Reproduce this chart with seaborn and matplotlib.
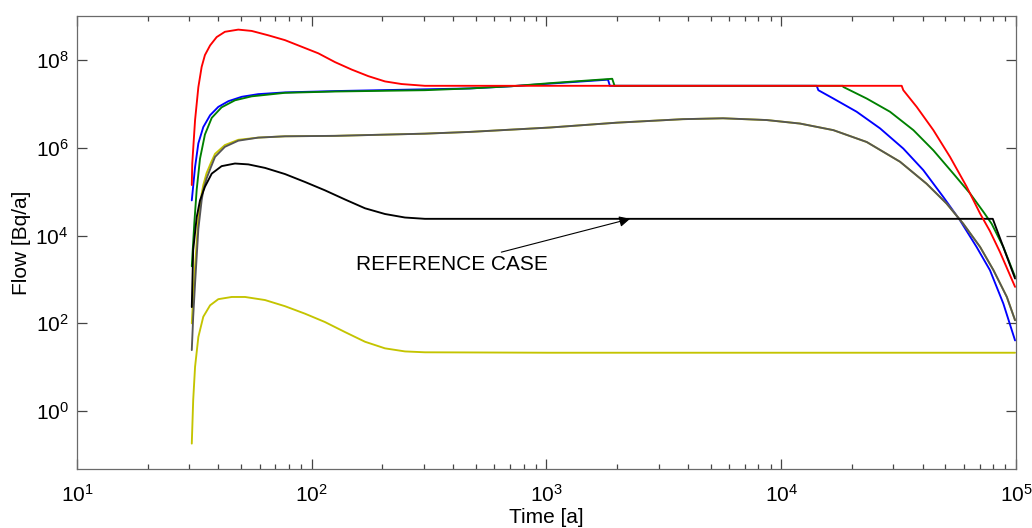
import matplotlib
matplotlib.use("Agg")
import matplotlib.pyplot as plt
import matplotlib.ticker as mticker
import seaborn as sns
import pandas as pd
import numpy as np

# ---- data: log10(time [a]) and log10(flow [Bq/a]) ----
yellow_low_lt = [1.489, 1.495, 1.503, 1.517, 1.538, 1.567, 1.602, 1.659, 1.716, 1.801, 1.886,
                 1.971, 2.056, 2.142, 2.227, 2.312, 2.397, 2.482, 3.015, 4.996]
yellow_low_lf = [-0.74, 0.25, 1.01, 1.69, 2.15, 2.41, 2.55, 2.60, 2.60, 2.53, 2.39,
                 2.22, 2.03, 1.80, 1.58, 1.43, 1.36, 1.34, 1.33, 1.33]

blue_lt = [1.489, 1.503, 1.517, 1.538, 1.567, 1.602, 1.645, 1.702, 1.772, 1.886, 2.099, 2.482,
           2.674, 2.85, 3.015, 3.262, 3.27, 4.151, 4.158, 4.222, 4.321, 4.421, 4.520, 4.605,
           4.690, 4.761, 4.832, 4.889, 4.946, 4.996]
blue_lf = [4.80, 5.56, 6.10, 6.47, 6.74, 6.93, 7.06, 7.16, 7.22, 7.26, 7.29, 7.33,
           7.35, 7.40, 7.46, 7.55, 7.41, 7.41, 7.31, 7.12, 6.82, 6.44, 5.98, 5.49,
           4.88, 4.35, 3.74, 3.21, 2.45, 1.61]

green_lt = [1.489, 1.500, 1.510, 1.524, 1.545, 1.574, 1.616, 1.673, 1.744, 1.886, 2.099, 2.482,
            2.674, 2.85, 3.015, 3.28, 3.29, 4.263, 4.264, 4.364, 4.463, 4.563, 4.648, 4.733,
            4.804, 4.861, 4.896, 4.946, 4.996]
green_lf = [3.30, 4.30, 5.05, 5.75, 6.30, 6.68, 6.92, 7.08, 7.17, 7.25, 7.28, 7.31,
            7.35, 7.40, 7.47, 7.57, 7.41, 7.41, 7.385, 7.12, 6.82, 6.40, 5.94, 5.41,
            4.96, 4.54, 4.27, 3.74, 3.06]

mid_lt = [1.489, 1.495, 1.503, 1.517, 1.531, 1.538, 1.552, 1.570, 1.588, 1.630, 1.687, 1.772,
          1.886, 2.099, 2.482, 2.674, 3.015, 3.299, 3.581, 3.752, 3.938, 4.080, 4.222, 4.364,
          4.506, 4.619, 4.704, 4.775, 4.847, 4.904, 4.961, 4.996]
yellow_mid_lf = [2.00, 2.60, 3.30, 4.40, 4.95, 5.15, 5.42, 5.65, 5.86, 6.06, 6.18, 6.23,
                 6.26, 6.27, 6.32, 6.36, 6.46, 6.57, 6.65, 6.67, 6.63, 6.55, 6.40, 6.13,
                 5.68, 5.18, 4.73, 4.27, 3.74, 3.21, 2.60, 2.07]
gray_lf = [1.39, 2.15, 2.91, 4.15, 4.80, 5.03, 5.30, 5.55, 5.79, 6.02, 6.16, 6.23,
           6.26, 6.27, 6.32, 6.36, 6.46, 6.57, 6.65, 6.67, 6.63, 6.55, 6.40, 6.13,
           5.68, 5.18, 4.73, 4.27, 3.74, 3.21, 2.60, 2.07]

black_lt = [1.489, 1.495, 1.510, 1.524, 1.545, 1.574, 1.616, 1.673, 1.730, 1.801, 1.886,
            1.971, 2.056, 2.142, 2.227, 2.312, 2.397, 2.482, 4.901, 4.996]
black_lf = [2.37, 3.67, 4.42, 4.80, 5.11, 5.41, 5.58, 5.64, 5.62, 5.54, 5.40,
            5.22, 5.03, 4.82, 4.62, 4.49, 4.41, 4.38, 4.38, 3.02]

red_lt = [1.489, 1.491, 1.503, 1.517, 1.531, 1.545, 1.567, 1.595, 1.630, 1.687, 1.744, 1.815,
          1.886, 1.957, 2.028, 2.099, 2.170, 2.241, 2.312, 2.383, 2.482, 4.513, 4.520, 4.577,
          4.648, 4.719, 4.790, 4.847, 4.889, 4.932, 4.996]
red_lf = [5.15, 5.64, 6.63, 7.38, 7.84, 8.11, 8.33, 8.52, 8.64, 8.69, 8.66, 8.56,
          8.45, 8.30, 8.15, 7.95, 7.78, 7.63, 7.51, 7.45, 7.41, 7.41, 7.31, 6.93,
          6.40, 5.79, 5.11, 4.50, 4.10, 3.62, 2.83]

annot_text = "REFERENCE CASE"
annot_tip_lt, annot_tip_lf = 3.356, 4.38
annot_txt_lt, annot_txt_lf = 3.006, 3.33

series = {
    "yellow_low": (yellow_low_lt, yellow_low_lf),
    "blue": (blue_lt, blue_lf),
    "green": (green_lt, green_lf),
    "yellow_mid": (mid_lt, yellow_mid_lf),
    "gray": (mid_lt, gray_lf),
    "black": (black_lt, black_lf),
    "red": (red_lt, red_lf),
}
colors = {
    "yellow_low": "#c4c400",
    "blue": "#0000ff",
    "green": "#008000",
    "yellow_mid": "#c4c400",
    "gray": "#555555",
    "black": "#000000",
    "red": "#ff0000",
}

frames = []
for name, (lt, lf) in series.items():
    frames.append(pd.DataFrame({"series": name,
                                "t": np.power(10.0, lt),
                                "flow": np.power(10.0, lf)}))
df = pd.concat(frames, ignore_index=True)

sns.set_style("ticks")
plt.rcParams["font.family"] = ["Liberation Sans", "DejaVu Sans"]
plt.rcParams["mathtext.fontset"] = "custom"
plt.rcParams["mathtext.rm"] = "Liberation Sans"
plt.rcParams["mathtext.it"] = "Liberation Sans:italic"
plt.rcParams["mathtext.default"] = "regular"
plt.rcParams["text.color"] = "black"
plt.rcParams["axes.labelcolor"] = "black"

fig = plt.figure(figsize=(10.32, 5.28), dpi=100)
ax = fig.add_axes([0.0746, 0.1117, 0.9099, 0.858])

sns.lineplot(data=df, x="t", y="flow", hue="series", hue_order=list(series.keys()),
             palette=colors, sort=False, estimator=None, legend=False, lw=1.35, ax=ax)

ax.set_xscale("log")
ax.set_yscale("log")
ax.set_xlim(10, 1e5)
ax.set_ylim(0.048, 1e9)

ax.xaxis.set_major_locator(mticker.LogLocator(base=10, numticks=10))
ax.xaxis.set_minor_locator(mticker.LogLocator(base=10, subs=np.arange(2, 10), numticks=20))
ax.yaxis.set_major_locator(mticker.FixedLocator([1e0, 1e2, 1e4, 1e6, 1e8]))
ax.yaxis.set_minor_locator(mticker.NullLocator())
fmt = mticker.FuncFormatter(lambda v, p: r"$10^{%d}$" % int(round(np.log10(v))))
ax.xaxis.set_major_formatter(fmt)
ax.yaxis.set_major_formatter(fmt)

for sp in ax.spines.values():
    sp.set_visible(True)
    sp.set_color("#6a6a6a")
    sp.set_linewidth(0.9)

ax.tick_params(which="both", direction="in", top=True, right=True, color="#444444",
               labelsize=15, labelcolor="black")
ax.tick_params(which="major", length=7, width=0.9)
ax.tick_params(which="minor", length=3.5, width=0.9)
ax.tick_params(axis="x", which="major", pad=11)
ax.tick_params(axis="y", which="major", pad=6)

ax.set_xlabel("Time [a]", fontsize=15, labelpad=1)
ax.set_ylabel("Flow [Bq/a]", fontsize=15, labelpad=3)

ax.annotate(annot_text, xy=(10 ** annot_tip_lt, 10 ** annot_tip_lf),
            xytext=(10 ** annot_txt_lt, 10 ** annot_txt_lf),
            ha="right", va="center", fontsize=15, color="black",
            arrowprops=dict(arrowstyle="-|>", color="black", lw=0.8,
                            shrinkA=0, shrinkB=0, mutation_scale=16))

fig.savefig("out.png", dpi=100)
